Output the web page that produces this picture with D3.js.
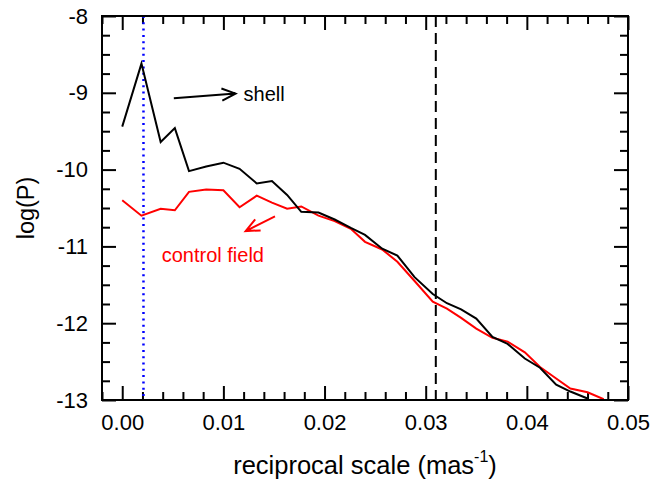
<!DOCTYPE html>
<html>
<head>
<meta charset="utf-8">
<script src="https://cdn.jsdelivr.net/npm/d3@7"></script>
<style>
  body { margin: 0; background: #fff; }
  text { font-family: "Liberation Sans", Arial, Helvetica, sans-serif; }
</style>
</head>
<body>
<div id="vis"></div>
<script>
// frame and plot box
const FRAME_WIDTH = 666;
const FRAME_HEIGHT = 481;
const MARGINS = {left: 102, right: 38, top: 16, bottom: 81};
const VIS_WIDTH = FRAME_WIDTH - MARGINS.left - MARGINS.right;
const VIS_HEIGHT = FRAME_HEIGHT - MARGINS.top - MARGINS.bottom;

// data
const freq = [0.0000, 0.0019, 0.0038, 0.0052, 0.0066, 0.0083, 0.0100, 0.0116,
              0.0133, 0.0148, 0.0163, 0.0177, 0.0194, 0.0210, 0.0226, 0.0240,
              0.0257, 0.0272, 0.0289, 0.0307, 0.0321, 0.0335, 0.0350, 0.0366,
              0.0381, 0.0398, 0.0413, 0.0429, 0.0443, 0.0460, 0.0476];
const shell = [-9.44, -8.62, -9.64, -9.46, -10.02, -9.96, -9.91, -9.99,
               -10.18, -10.15, -10.33, -10.55, -10.56, -10.65, -10.76, -10.85,
               -11.03, -11.12, -11.40, -11.62, -11.74, -11.82, -11.94, -12.18,
               -12.27, -12.46, -12.58, -12.80, -12.89, -12.98, null];
const control = [-10.40, -10.60, -10.51, -10.53, -10.29, -10.26, -10.27, -10.49,
                 -10.34, -10.43, -10.51, -10.48, -10.60, -10.67, -10.77, -10.94,
                 -11.04, -11.20, -11.45, -11.72, -11.81, -11.93, -12.07, -12.19,
                 -12.24, -12.38, -12.57, -12.72, -12.85, -12.90, -12.99];

const xMajor = [0.00, 0.01, 0.02, 0.03, 0.04, 0.05];
const yMajor = [-8, -9, -10, -11, -12, -13];
const blueLine = 0.0021;
const dashLine = 0.0310;

const FRAME = d3.select("#vis")
                .append("svg")
                  .attr("width", FRAME_WIDTH)
                  .attr("height", FRAME_HEIGHT);

const X_SCALE = d3.scaleLinear().domain([-0.002, 0.05]).range([0, VIS_WIDTH]);
const Y_SCALE = d3.scaleLinear().domain([-13, -8]).range([VIS_HEIGHT, 0]);

const g = FRAME.append("g")
               .attr("transform", "translate(" + MARGINS.left + "," + MARGINS.top + ")");

g.append("clipPath").attr("id", "clip")
  .append("rect").attr("width", VIS_WIDTH).attr("height", VIS_HEIGHT);

// minor tick values
const xMinor = d3.range(0, 26).map(i => -0.002 + i * 0.002).filter(v => !xMajor.some(m => Math.abs(m - v) < 1e-9));
const yMinor = d3.range(0, 21).map(i => -13 + i * 0.25).filter(v => v % 1 !== 0);

// bottom axis with labels
g.append("g")
  .attr("transform", "translate(0," + VIS_HEIGHT + ")")
  .call(d3.axisBottom(X_SCALE).tickValues(xMajor).tickSize(-14).tickPadding(14)
        .tickFormat(d => d.toFixed(2)));
g.append("g").attr("transform", "translate(0," + VIS_HEIGHT + ")")
  .call(d3.axisBottom(X_SCALE).tickValues(xMinor).tickSize(-8).tickFormat(""));
// top axis, ticks only
g.append("g").call(d3.axisTop(X_SCALE).tickValues(xMajor).tickSize(-14).tickFormat(""));
g.append("g").call(d3.axisTop(X_SCALE).tickValues(xMinor).tickSize(-8).tickFormat(""));

// left axis with labels (plain hyphen as minus, like the original)
g.append("g")
  .call(d3.axisLeft(Y_SCALE).tickValues(yMajor).tickSize(-14).tickPadding(14)
        .tickFormat(d => String(d)));
g.append("g").call(d3.axisLeft(Y_SCALE).tickValues(yMinor).tickSize(-8).tickFormat(""));
// right axis, ticks only
g.append("g").attr("transform", "translate(" + VIS_WIDTH + ",0)")
  .call(d3.axisRight(Y_SCALE).tickValues(yMajor).tickSize(-14).tickFormat(""));
g.append("g").attr("transform", "translate(" + VIS_WIDTH + ",0)")
  .call(d3.axisRight(Y_SCALE).tickValues(yMinor).tickSize(-8).tickFormat(""));

g.selectAll(".domain").remove();
g.selectAll(".tick line").attr("stroke", "#000").attr("stroke-width", 2);
g.selectAll(".tick text").attr("font-size", "22px").attr("fill", "#000")
  .attr("font-family", "'Liberation Sans', Arial, sans-serif");

// vertical reference lines
g.append("line")
  .attr("x1", X_SCALE(blueLine)).attr("x2", X_SCALE(blueLine))
  .attr("y1", 0).attr("y2", VIS_HEIGHT)
  .attr("stroke", "#0000ff").attr("stroke-width", 2.5)
  .attr("stroke-dasharray", "2,4.3");

g.append("line")
  .attr("x1", X_SCALE(dashLine)).attr("x2", X_SCALE(dashLine))
  .attr("y1", 0).attr("y2", VIS_HEIGHT)
  .attr("stroke", "#000").attr("stroke-width", 2)
  .attr("stroke-dasharray", "11,6");

// data lines
const line = d3.line()
  .defined(d => d[1] !== null)
  .x(d => X_SCALE(d[0]))
  .y(d => Y_SCALE(d[1]));

const lines = g.append("g").attr("clip-path", "url(#clip)");
lines.append("path")
  .datum(freq.map((f, i) => [f, control[i]]))
  .attr("d", line).attr("fill", "none")
  .attr("stroke", "#ff0000").attr("stroke-width", 2);
lines.append("path")
  .datum(freq.map((f, i) => [f, shell[i]]))
  .attr("d", line).attr("fill", "none")
  .attr("stroke", "#000").attr("stroke-width", 2);

// frame box
g.append("rect")
  .attr("width", VIS_WIDTH).attr("height", VIS_HEIGHT)
  .attr("fill", "none").attr("stroke", "#000").attr("stroke-width", 2);

// annotations
function arrow(x0, y0, x1, y1, color) {
  const a = Math.atan2(y1 - y0, x1 - x0);
  const len = 15, spread = 0.42;
  const path = d3.path();
  path.moveTo(x0, y0); path.lineTo(x1, y1);
  path.moveTo(x1 - len * Math.cos(a - spread), y1 - len * Math.sin(a - spread));
  path.lineTo(x1, y1);
  path.lineTo(x1 - len * Math.cos(a + spread), y1 - len * Math.sin(a + spread));
  g.append("path").attr("d", path.toString())
    .attr("fill", "none").attr("stroke", color).attr("stroke-width", 2);
}

arrow(X_SCALE(0.0051), Y_SCALE(-9.07), X_SCALE(0.0112), Y_SCALE(-9.01), "#000");
g.append("text")
  .attr("x", X_SCALE(0.0120)).attr("y", Y_SCALE(-9.11))
  .attr("font-size", "20px").attr("fill", "#000")
  .text("shell");

arrow(X_SCALE(0.0151), Y_SCALE(-10.61), X_SCALE(0.0122), Y_SCALE(-10.80), "#ff0000");
g.append("text")
  .attr("x", X_SCALE(0.0039)).attr("y", Y_SCALE(-11.20))
  .attr("font-size", "20px").attr("fill", "#ff0000")
  .text("control field");

// axis titles
const xTitle = FRAME.append("text")
  .attr("x", MARGINS.left + VIS_WIDTH / 2)
  .attr("y", 474)
  .attr("text-anchor", "middle")
  .attr("font-size", "25.5px").attr("fill", "#000");
xTitle.append("tspan").text("reciprocal scale (mas");
xTitle.append("tspan").attr("font-size", "16px").attr("dy", "-12").text("-1");
xTitle.append("tspan").attr("dy", "12").text(")");

FRAME.append("text")
  .attr("transform", "translate(34," + (MARGINS.top + VIS_HEIGHT / 2) + ") rotate(-90)")
  .attr("text-anchor", "middle")
  .attr("font-size", "23.5px").attr("fill", "#000")
  .text("log(P)");
</script>
</body>
</html>
